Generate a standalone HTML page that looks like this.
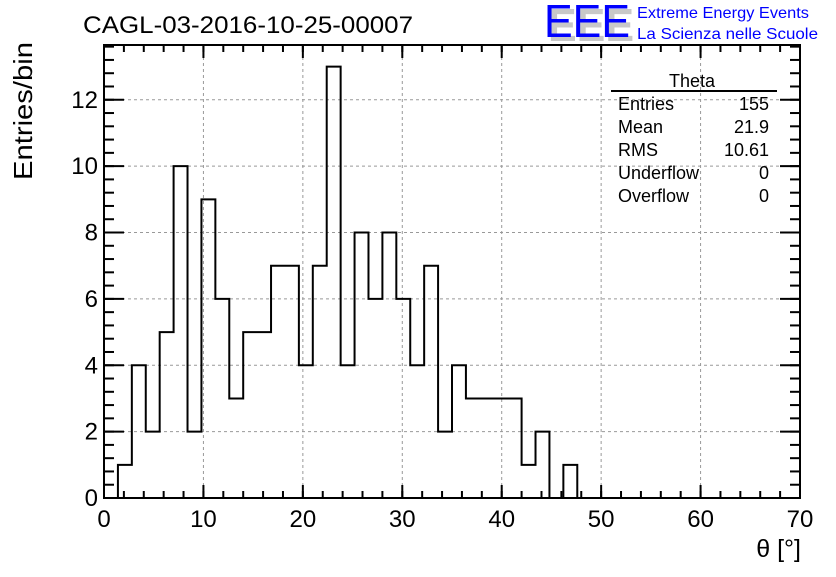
<!DOCTYPE html>
<html><head><meta charset="utf-8"><style>
body{margin:0;background:#fff;}
svg text{font-family:"Liberation Sans",sans-serif;}
</style></head><body>
<svg id="c" width="836" height="572" xmlns="http://www.w3.org/2000/svg">
<rect width="836" height="572" fill="#fff"/>
<text x="83" y="33" font-size="24" textLength="330" lengthAdjust="spacingAndGlyphs">CAGL-03-2016-10-25-00007</text>
<g>
<text x="548" y="41" font-size="46" fill="#c8c8c8" font-weight="bold" textLength="86" lengthAdjust="spacingAndGlyphs">EEE</text>
<text x="544" y="37" font-size="46" fill="#0000ff" textLength="86" lengthAdjust="spacingAndGlyphs">EEE</text>
<text x="637" y="18" font-size="16" fill="#0000ff" textLength="172" lengthAdjust="spacingAndGlyphs">Extreme Energy Events</text>
<text x="637" y="39" font-size="16" fill="#0000ff" textLength="181" lengthAdjust="spacingAndGlyphs">La Scienza nelle Scuole</text>
</g>
<g id="grid"></g>
<path id="hist" fill="none" stroke="#000" stroke-width="2"/>
<g id="axes"></g>
<rect x="104" y="45" width="696" height="453" fill="none" stroke="#000" stroke-width="2"/>
<text x="32" y="42" font-size="26" transform="rotate(-90 32 42)" text-anchor="end" textLength="138" lengthAdjust="spacingAndGlyphs">Entries/bin</text>
<text x="801" y="557" font-size="25" text-anchor="end">θ [°]</text>
<g>
<text x="692" y="87" font-size="18" text-anchor="middle">Theta</text>
<line x1="611" y1="91" x2="777" y2="91" stroke="#000" stroke-width="2"/>
<text x="618" y="110" font-size="18">Entries</text><text x="769" y="110" font-size="18" text-anchor="end">155</text>
<text x="618" y="133" font-size="18">Mean</text><text x="769" y="133" font-size="18" text-anchor="end">21.9</text>
<text x="618" y="156" font-size="18">RMS</text><text x="769" y="156" font-size="18" text-anchor="end">10.61</text>
<text x="618" y="179" font-size="18">Underflow</text><text x="769" y="179" font-size="18" text-anchor="end">0</text>
<text x="618" y="202" font-size="18">Overflow</text><text x="769" y="202" font-size="18" text-anchor="end">0</text>
</g>
</svg>
<script>
const binCounts=[0,1,4,2,5,10,2,9,6,3,5,5,7,7,4,7,13,4,8,6,8,6,4,7,2,4,3,3,3,3,1,2,0,1,0,0,0,0,0,0,0,0,0,0,0,0,0,0,0,0];
const xTicks=[0,10,20,30,40,50,60,70];
const yTicks=[0,2,4,6,8,10,12];
const xMin=0,xMax=70,yMin=0,yMax=13.65;
const L=104,R=800,T=45,B=498;
const sx=v=>L+(v-xMin)/(xMax-xMin)*(R-L);
const sy=v=>B-(v-yMin)/(yMax-yMin)*(B-T);
const NS="http://www.w3.org/2000/svg";
const grid=document.getElementById('grid'),axes=document.getElementById('axes');
function ln(p,x1,y1,x2,y2,st,dash){const l=document.createElementNS(NS,'line');l.setAttribute('x1',x1);l.setAttribute('y1',y1);l.setAttribute('x2',x2);l.setAttribute('y2',y2);l.setAttribute('stroke',st);l.setAttribute('stroke-width',dash?1:2);if(dash)l.setAttribute('stroke-dasharray','3,3');p.appendChild(l);return l;}
function tx(x,y,s,anchor){const t=document.createElementNS(NS,'text');t.setAttribute('x',x);t.setAttribute('y',y);t.setAttribute('font-size',24);t.setAttribute('text-anchor',anchor);t.textContent=s;axes.appendChild(t);return t;}
xTicks.forEach(v=>{const x=sx(v);
 if(v>xMin&&v<xMax){const g=ln(grid,x,T,x,B,'#999',true);

}
 ln(axes,x,B,x,B-13,'#000');ln(axes,x,T,x,T+13,'#000');
 const t=tx(x,527,String(v),'middle');


});
for(let v=xMin;v<=xMax;v+=2){const x=sx(v);ln(axes,x,B,x,B-7,'#000');ln(axes,x,T,x,T+7,'#000');}
yTicks.forEach(v=>{const y=sy(v);
 if(v>yMin){const g=ln(grid,L,y,R,y,'#999',true);

}
 ln(axes,L,y,L+20,y,'#000');ln(axes,R,y,R-20,y,'#000');
 const t=tx(L-6,y+8,String(v),'end');


});
for(let v=yMin;v<=yMax;v+=0.4){const y=sy(v);ln(axes,L,y,L+10,y,'#000');ln(axes,R,y,R-10,y,'#000');}
const w=(xMax-xMin)/binCounts.length;
let d='M'+sx(0)+','+sy(0);
binCounts.forEach((c,i)=>{d+=' L'+sx(i*w)+','+sy(c)+' L'+sx((i+1)*w)+','+sy(c);});
d+=' L'+sx(xMax)+','+sy(0);
document.getElementById('hist').setAttribute('d',d);
</script>
</body></html>
